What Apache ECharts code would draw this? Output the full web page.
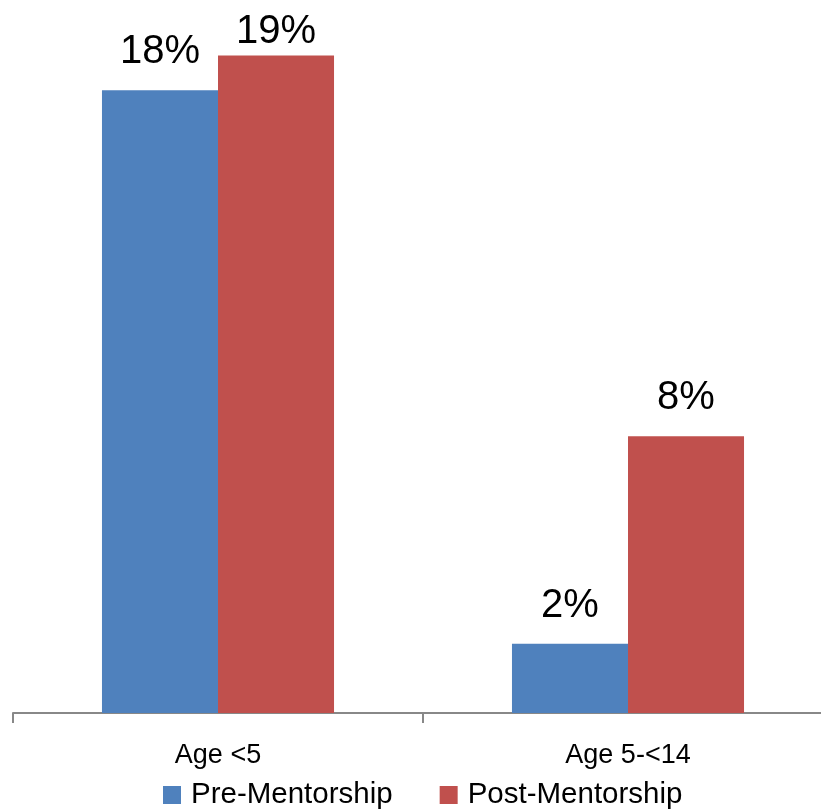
<!DOCTYPE html>
<html>
<head>
<meta charset="utf-8">
<script src="https://cdn.jsdelivr.net/npm/echarts@6/dist/echarts.min.js"></script>
<style>
  html, body { margin: 0; padding: 0; background: #fff; }
  #main { width: 821px; height: 811px; }
</style>
</head>
<body>
<div id="main"></div>
<script>
var categories = ['Age <5', 'Age 5-<14'];
var seriesNames = ['Pre-Mentorship', 'Post-Mentorship'];
var preValues = [18, 2];
var postValues = [19, 8];

var chart = echarts.init(document.getElementById('main'));
var font = '"Liberation Sans", Arial, sans-serif';

var barLabel = {
  show: true,
  position: 'top',
  distance: 18,
  formatter: '{c}%',
  fontFamily: font,
  fontSize: 40,
  color: '#000'
};

// the tallest label sits closer to its bar, as in the original
var postData = postValues.map(function (v) {
  return v === Math.max.apply(null, postValues) ? { value: v, label: { distance: 4 } } : v;
});

var option = {
  animation: false,
  grid: { left: 13, width: 820, top: 21, bottom: 98, outerBoundsMode: 'none', containLabel: false },
  legend: {
    left: 158,
    bottom: -4,
    itemWidth: 18,
    itemHeight: 18,
    itemGap: 47,
    icon: 'rect',
    textStyle: { fontFamily: font, fontSize: 29.5, color: '#000', padding: [0, 0, 0, 5] },
    data: seriesNames
  },
  xAxis: {
    type: 'category',
    data: categories,
    axisLine: { lineStyle: { color: '#888', width: 2 } },
    axisTick: { show: true, length: 10, lineStyle: { color: '#888', width: 2 } },
    axisLabel: { fontFamily: font, fontSize: 27, color: '#000', margin: 29 }
  },
  yAxis: {
    type: 'value',
    min: 0,
    max: 20,
    show: false,
    splitLine: { show: false }
  },
  series: [
    {
      name: seriesNames[0],
      type: 'bar',
      data: preValues,
      barWidth: '28.3%',
      barGap: '0%',
      itemStyle: { color: '#4F81BD' },
      label: barLabel
    },
    {
      name: seriesNames[1],
      type: 'bar',
      data: postData,
      barWidth: '28.3%',
      itemStyle: { color: '#C0504D' },
      label: barLabel
    }
  ]
};

chart.setOption(option);
window.addEventListener('resize', function () { chart.resize(); });
</script>
</body>
</html>
